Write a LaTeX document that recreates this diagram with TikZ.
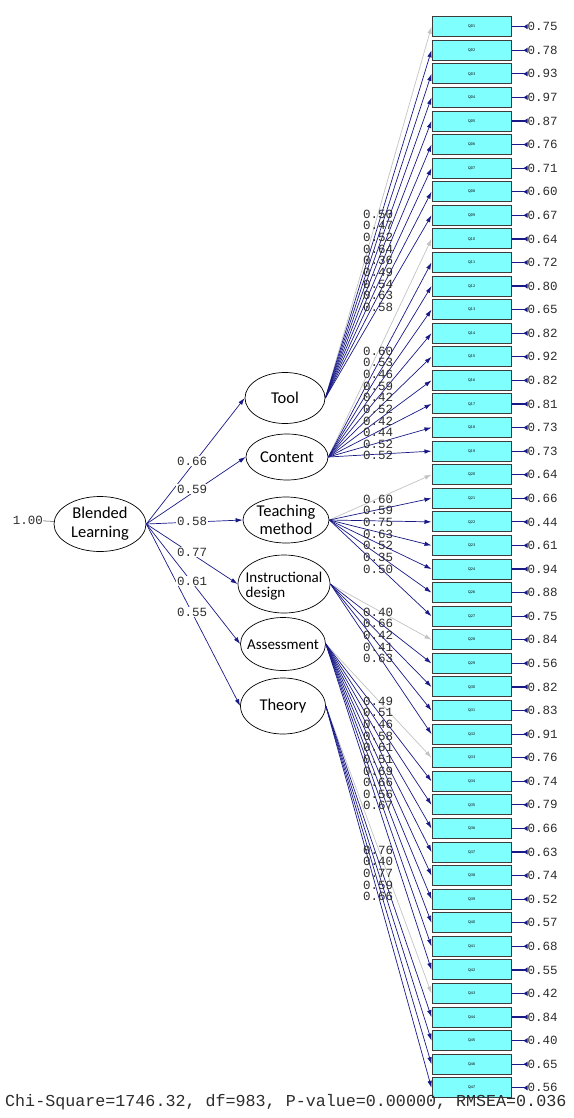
\documentclass[tikz,border=0pt]{standalone}
\usepackage{fontspec}
\setmainfont{Carlito}
\newfontfamily\monofont{Liberation Mono}
\usetikzlibrary{arrows.meta,shapes.geometric}
\definecolor{navy}{RGB}{25,25,135}
\definecolor{fixgray}{RGB}{195,195,195}
\definecolor{boxfill}{RGB}{128,255,255}
\definecolor{boxline}{RGB}{60,60,60}
\definecolor{txt}{RGB}{45,45,45}
\tikzset{
  obs/.style={draw=boxline, line width=1pt, fill=boxfill, minimum width=79pt, minimum height=20pt, inner sep=0pt, font=\sffamily\fontsize{4}{4}\selectfont},
  latent/.style={ellipse, draw=black, line width=0.7pt, inner sep=0pt},
  ltxt/.style={align=center, inner sep=0pt, text=black},
  lbl/.style={inner sep=0pt, text=txt, font=\monofont\fontsize{12.5}{13}\selectfont},
  errlbl/.style={inner sep=0pt, text=txt, anchor=west, font=\monofont\fontsize{12.5}{13}\selectfont},
  loadline/.style={draw=navy, line width=0.7pt, -{Latex[length=7pt,width=4.5pt]}},
  fixline/.style={draw=fixgray, line width=0.7pt, -{Latex[length=7pt,width=4.5pt]}},
  errline/.style={draw=navy, line width=1.2pt, {Latex[reversed,length=4.5pt,width=5.5pt]}-},
}
\newcommand\loadset[4]{%
  \foreach \v [count=\k from 0] in {#4} {
    \pgfmathtruncatemacro\tg{#2+\k}
    \ifnum\k=0
      \draw[fixline] (#1.east) -- (q\tg.west);
    \else
      \draw[loadline] (#1.east) -- (q\tg.west);
    \fi
  }
  \foreach \v [count=\k from 0] in {#4} {
    \node[lbl] (l#1\k) at (378,{#3+11.65*\k}) {\v};
  }
}
\begin{document}
\begin{tikzpicture}[x=1pt,y=-1pt]
\useasboundingbox (0,0) rectangle (573,1118);

% observed boxes
\foreach \lab [count=\i] in {01,02,03,04,05,06,07,08,09,10,11,12,13,14,15,16,17,18,19,20,21,22,23,24,26,27,28,29,30,31,32,33,34,35,36,37,38,39,40,41,42,43,44,45,46,47} {
  \pgfmathsetmacro\yy{26.7+(\i-1)*23.58}
  \node[obs] (q\i) at (471.5,\yy) {Q\lab};
}

% error terms
\foreach \e [count=\i] in {0.75,0.78,0.93,0.97,0.87,0.76,0.71,0.60,0.67,0.64,0.72,0.80,0.65,0.82,0.92,0.82,0.81,0.73,0.73,0.64,0.66,0.44,0.61,0.94,0.88,0.75,0.84,0.56,0.82,0.83,0.91,0.76,0.74,0.79,0.66,0.63,0.74,0.52,0.57,0.68,0.55,0.42,0.84,0.40,0.65,0.56} {
  \node[errlbl] (e\i) at ([xshift=16pt]q\i.east) {\e};
  \draw[errline] (e\i.west) -- (q\i.east);
}

% latent variables
\node[latent, minimum width=92pt, minimum height=55pt] (bl) at (100,524) {};
\node[ltxt, font=\fontsize{16.5}{19}\selectfont] (blt) at (bl) {Blended\\Learning};
\node[latent, minimum width=80pt, minimum height=51pt] (tool) at (285,398) {};
\node[ltxt, font=\fontsize{16.5}{18}\selectfont] (toolt) at (tool) {Tool};
\node[latent, minimum width=82pt, minimum height=46pt] (content) at (287,457) {};
\node[ltxt, font=\fontsize{16.5}{18}\selectfont] (contentt) at (content) {Content};
\node[latent, minimum width=86pt, minimum height=46pt] (teach) at (286,520) {};
\node[ltxt, font=\fontsize{16.5}{18}\selectfont] (teacht) at (teach) {Teaching\\method};
\node[latent, minimum width=92pt, minimum height=58pt] (instr) at (284,584) {};
\node[ltxt, align=left, font=\fontsize{15}{15.5}\selectfont] (instrt) at (284,586) {Instructional\\design};
\node[latent, minimum width=85pt, minimum height=53pt] (assess) at (283,644) {};
\node[ltxt, font=\fontsize{15}{17}\selectfont] (assesst) at (283,645) {Assessment};
\node[latent, minimum width=85pt, minimum height=56pt] (theory) at (283,706) {};
\node[ltxt, font=\fontsize{16.5}{18}\selectfont] (theoryt) at (theory) {Theory};

% first-order loadings
\loadset{tool}{1}{214}{0.50,0.47,0.52,0.64,0.36,0.49,0.54,0.63,0.58}
\loadset{content}{10}{351}{0.60,0.53,0.46,0.59,0.42,0.52,0.42,0.44,0.52,0.52}
\loadset{teach}{20}{499}{0.60,0.59,0.75,0.63,0.52,0.35,0.50}
\loadset{instr}{27}{612}{0.40,0.66,0.42,0.41,0.63}
\loadset{assess}{32}{701}{0.49,0.51,0.46,0.58,0.61,0.51,0.69,0.66,0.56,0.67}
\loadset{theory}{42}{850}{0.76,0.40,0.77,0.59,0.66}

% second-order loadings
\foreach \t/\v/\ly in {tool/0.66/461,content/0.59/489,teach/0.58/521,instr/0.77/552,assess/0.61/581,theory/0.55/612} {
  \draw[loadline] (bl.east) -- (\t.west);
}
\foreach \t/\v/\ly in {tool/0.66/461,content/0.59/489,teach/0.58/521,instr/0.77/552,assess/0.61/581,theory/0.55/612} {
  \node[lbl, fill=white, inner sep=0.8pt] (s\t) at (192,\ly) {\v};
}

% variance of Blended Learning
\node[lbl, anchor=east] (one) at (43,520) {1.00};
\draw[black!70, line width=0.5pt] (one) -- (bl);

% fit statistics
\node[anchor=base west, inner sep=0pt, text=txt, font=\monofont\fontsize{16.7}{18}\selectfont] (fit) at (5,1106) {Chi-Square=1746.32, df=983, P-value=0.00000, RMSEA=0.036};
\end{tikzpicture}
\end{document}
